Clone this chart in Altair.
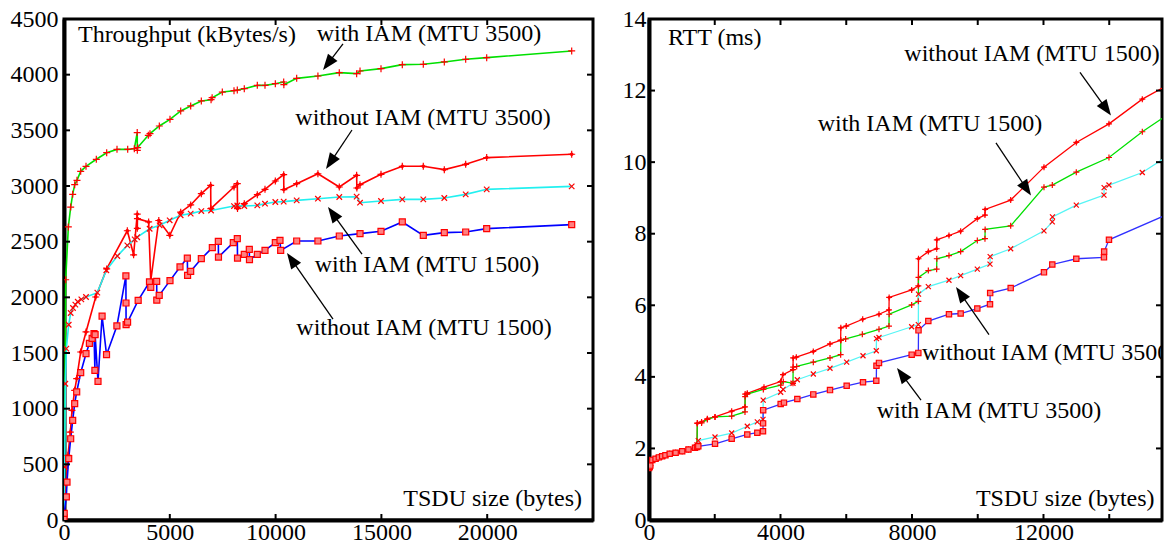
import math
import altair as alt
import pandas as pd

FONT = "Liberation Serif, Times New Roman, Times, serif"
FS = 24

# ---------------- left panel : throughput ----------------
tp_x_domain = [0, 25000]
tp_y_domain = [0, 4500]
tp_x_labels = [0, 5000, 10000, 15000, 20000]
tp_x_ticks = [5000, 10000, 15000, 20000]
tp_y_labels = [0, 500, 1000, 1500, 2000, 2500, 3000, 3500, 4000, 4500]
tp_y_ticks = [500, 1000, 1500, 2000, 2500, 3000, 3500, 4000]

# with IAM (MTU 3500)
tp_green_x = [0, 80, 205, 316, 410, 505, 614, 789, 1040, 1527, 2017, 2505, 3010, 3324, 3460, 3465,
              3480, 3985, 4064, 4505, 5009, 5515, 5987, 6490, 6950, 7000, 7482, 8034, 8190, 8520,
              9136, 9499, 9987, 10382, 10390, 10996, 12000, 13010, 13830, 13990, 14981, 15988,
              16980, 17973, 18983, 19976, 23993]
tp_green_y = [20, 2158, 2632, 2811, 2925, 3012, 3051, 3132, 3177, 3240, 3299, 3329, 3329, 3335, 3480,
              3320, 3345, 3455, 3470, 3539, 3599, 3674, 3719, 3764, 3775, 3793, 3844, 3856, 3862,
              3874, 3904, 3904, 3919, 3934, 3910, 3967, 3988, 4018, 4009, 4033, 4054, 4090, 4093,
              4114, 4138, 4153, 4213]
# without IAM (MTU 3500)
tp_red_x = [0, 100, 189, 299, 378, 505, 600, 789, 1040, 1498, 2017, 2993, 3290, 3460, 3465, 3470,
            4000, 4100, 4480, 5000, 5515, 5987, 6490, 6932, 6940, 8034, 8190, 8200, 8520, 9136,
            9499, 9987, 10382, 10390, 10996, 12000, 13010, 13830, 13840, 13990, 14981, 15988,
            16980, 17973, 18983, 19976, 23993]
tp_red_y = [20, 330, 581, 790, 985, 1165, 1270, 1509, 1689, 2003, 2255, 2598, 2382, 2748, 2620, 2707,
            2677, 2150, 2690, 2557, 2765, 2830, 2931, 3006, 2797, 2991, 3021, 2797, 2841, 2922,
            2970, 3045, 3102, 2967, 3021, 3110, 2991, 3096, 2982, 3012, 3105, 3177, 3177, 3147,
            3195, 3255, 3285]
# with IAM (MTU 1500)
tp_cyan_x = [0, 32, 63, 110, 222, 316, 425, 536, 650, 819, 1040, 1575, 2000, 2520, 2993, 3340, 3460,
             4048, 4520, 4994, 5513, 5987, 6490, 6950, 8034, 8190, 8520, 9136, 9499, 9987, 10382,
             10996, 12000, 13010, 13830, 13990, 14981, 15988, 16980, 17973, 18983, 19976, 23993]
tp_cyan_y = [20, 476, 1224, 1539, 1754, 1859, 1904, 1934, 1960, 1982, 2003, 2042, 2243, 2371, 2467,
             2521, 2540, 2616, 2647, 2692, 2737, 2752, 2775, 2780, 2820, 2825, 2820, 2826, 2841,
             2856, 2860, 2871, 2886, 2901, 2904, 2850, 2865, 2880, 2880, 2892, 2925, 2970, 2997]
# without IAM (MTU 1500)
tp_blue_x = [0, 10, 110, 142, 222, 316, 410, 505, 600, 789, 1040, 1200, 1330, 1418, 1460, 1470, 1607,
             1800, 2010, 2500, 2925, 2930, 2935, 3005, 3505, 4040, 4100, 4380, 4385, 4500, 5009,
             5482, 5828, 5840, 5987, 6490, 7010, 7293, 7300, 8001, 8190, 8200, 8520, 8757, 8765,
             9136, 9499, 9987, 10208, 10240, 10996, 12000, 13010, 13990, 14981, 15988, 16980,
             17973, 18983, 19976, 23993]
tp_blue_y = [20, 60, 207, 341, 551, 730, 895, 1045, 1150, 1323, 1494, 1587, 1632, 1674, 1344, 1665,
             1246, 1832, 1485, 1743, 2192, 1949, 1754, 1778, 1973, 2138, 2090, 2144, 1975, 2018,
             2150, 2273, 2353, 2198, 2234, 2347, 2446, 2503, 2362, 2491, 2527, 2353, 2386, 2431,
             2338, 2386, 2422, 2491, 2512, 2422, 2506, 2506, 2551, 2572, 2593, 2677, 2557, 2581,
             2587, 2617, 2653]

tp_text = ["Throughput (kBytes/s)", "with IAM (MTU 3500)", "without IAM (MTU 3500)",
           "with IAM (MTU 1500)", "without IAM (MTU 1500)", "TSDU size (bytes)"]
tp_text_x = [660, 17250, 16966, 17155, 17013, 24480]
tp_text_y = [4356, 4365, 3611, 2290, 1725, 189]
tp_text_align = ["left", "center", "center", "center", "center", "right"]

tp_arrow_x1 = [13185, 13610, 14083, 12713]
tp_arrow_y1 = [4276, 3503, 2389, 1805]
tp_arrow_x2 = [12240, 12382, 12476, 10539]
tp_arrow_y2 = [4042, 3153, 2811, 2398]

# ---------------- right panel : RTT ----------------
rtt_x_domain = [0, 15605]
rtt_y_domain = [0, 14]
rtt_x_labels = [0, 4000, 8000, 12000]
rtt_x_ticks = [2000, 4000, 6000, 8000, 10000, 12000, 14000]
rtt_y_labels = [0, 2, 4, 6, 8, 10, 12, 14]
rtt_y_ticks = [2, 4, 6, 8, 10, 12]

rtt_start_x = [0, 20, 40, 100, 200, 300, 400, 500, 630, 810, 1010, 1200, 1400]
rtt_start_y = [1.45, 1.48, 1.52, 1.68, 1.71, 1.75, 1.78, 1.81, 1.85, 1.88, 1.92, 1.97, 2.02]

# without IAM (MTU 1500)
rtt_red_x = [1460, 1470, 1600, 1775, 2008, 2515, 2920, 2925, 2990, 3498, 4005, 4076, 4380, 4385, 4481,
             4998, 5506, 5830, 5835, 6000, 6500, 6996, 7300, 7305, 7990, 8193, 8198, 8497, 8750,
             8755, 9125, 9480, 9987, 10220, 10225, 11002, 12015, 12998, 13992, 15006, 16000]
rtt_red_y = [2.08, 2.70, 2.74, 2.83, 2.88, 3.04, 3.16, 3.52, 3.54, 3.71, 3.87, 4.06, 4.20, 4.53, 4.55,
             4.71, 4.92, 5.02, 5.37, 5.42, 5.61, 5.75, 5.87, 6.22, 6.43, 6.54, 7.30, 7.50, 7.58,
             7.83, 7.95, 8.07, 8.42, 8.52, 8.68, 8.94, 9.86, 10.55, 11.07, 11.76, 12.27]
# with IAM (MTU 1500)
rtt_green_x = [1460, 1470, 1600, 1775, 2008, 2515, 2920, 2925, 2990, 3478, 4005, 4086, 4380, 4385,
               4492, 4998, 5506, 5830, 5835, 5982, 6489, 6996, 7300, 7305, 7990, 8193, 8198, 8497,
               8750, 8755, 9125, 9480, 9987, 10220, 10225, 11002, 12015, 12268, 12998, 13992,
               15006, 16000]
rtt_green_y = [2.08, 2.71, 2.71, 2.81, 2.88, 2.90, 3.02, 3.45, 3.52, 3.65, 3.77, 3.87, 3.82, 4.27,
               4.29, 4.41, 4.53, 4.62, 5.02, 5.06, 5.19, 5.33, 5.42, 5.75, 6.01, 6.11, 6.78, 6.97,
               7.01, 7.30, 7.39, 7.50, 7.81, 7.86, 8.12, 8.22, 9.30, 9.36, 9.72, 10.13, 10.85, 11.46]
# without IAM (MTU 3500)
rtt_cyan_x = [1460, 1500, 2008, 2515, 2990, 3295, 3468, 3473, 4005, 4080, 4380, 4512, 4998, 5506,
              6013, 6510, 6914, 6920, 6996, 7990, 8193, 8198, 8497, 9125, 9480, 9987, 10373, 10378,
              11002, 12015, 12268, 12273, 12998, 13840, 13845, 13992, 15006, 16000]
rtt_cyan_y = [2.10, 2.22, 2.32, 2.43, 2.62, 2.74, 2.81, 3.35, 3.57, 3.65, 3.82, 3.92, 4.08, 4.24,
              4.41, 4.59, 4.73, 5.07, 5.10, 5.40, 5.46, 6.31, 6.52, 6.70, 6.83, 7.01, 7.15, 7.36,
              7.58, 8.08, 8.33, 8.47, 8.80, 9.08, 9.29, 9.36, 9.71, 10.30]
# with IAM (MTU 3500)
rtt_blue_x = [1460, 1500, 2008, 2515, 2990, 3295, 3468, 3470, 3473, 4005, 4106, 4512, 4998, 5506,
              6013, 6510, 6914, 6920, 6996, 7990, 8193, 8198, 8497, 9125, 9480, 9987, 10373, 10378,
              11002, 12015, 12268, 12998, 13840, 13845, 13992, 16000]
rtt_blue_y = [2.04, 2.06, 2.13, 2.27, 2.39, 2.44, 2.48, 2.70, 3.07, 3.24, 3.28, 3.38, 3.51, 3.63,
              3.75, 3.85, 3.89, 4.31, 4.39, 4.62, 4.67, 5.30, 5.56, 5.75, 5.77, 5.91, 6.03, 6.34,
              6.48, 6.92, 7.14, 7.30, 7.34, 7.50, 7.83, 8.63]

rtt_text = ["RTT (ms)", "without IAM (MTU 1500)", "with IAM (MTU 1500)", "without IAM (MTU 3500)",
            "with IAM (MTU 3500)", "TSDU size (bytes)"]
rtt_text_x = [578, 11650, 8548, 8304, 10342, 15380]
rtt_text_y = [13.46, 13.01, 11.07, 4.68, 3.04, 0.59]
rtt_text_align = ["left", "center", "center", "left", "center", "right"]

rtt_arrow_x1 = [13110, 10555, 10342, 8274]
rtt_arrow_y1 = [12.51, 10.54, 5.18, 3.35]
rtt_arrow_x2 = [14053, 11620, 9338, 7544]
rtt_arrow_y2 = [11.30, 9.07, 6.51, 4.25]

# ---------------- styles ----------------
PLUS = "M-1,0L1,0M0,-1L0,1"
PLUS_D = "M-1,0L1,0M0,-1L0,1M-0.45,0L0,-0.45L0.45,0L0,0.45Z"
XMARK = "M-1,-1L1,1M-1,1L1,-1"
HEAD = "M0,-1L-0.75,1L0.75,1Z"
HEAD_LEN = 16


def sdf(xs, ys):
    assert len(xs) == len(ys)
    return pd.DataFrame({"x": xs, "y": ys, "i": list(range(len(xs)))})


def panel(series, xdom, ydom, W, H, xlabels, xticks, ylabels, yticks,
          texts, tx, ty, talign, ax1, ay1, ax2, ay2, ylab_pad, lw):
    xs = alt.Scale(domain=xdom, nice=False, zero=False)
    ys = alt.Scale(domain=ydom, nice=False, zero=False)
    axis_common = dict(title=None, ticks=False, tickSize=0, grid=False, domainWidth=4,
                       domainColor="black", labelFont=FONT, labelFontSize=FS,
                       labelColor="black", labelOverlap=False, format="d")
    xaxis = alt.Axis(values=xlabels, labelFlush=False, labelPadding=0, **axis_common)
    yaxis = alt.Axis(values=ylabels, labelPadding=ylab_pad, **axis_common)

    def X(f):
        return alt.X(f, scale=xs, axis=xaxis)

    def Y(f):
        return alt.Y(f, scale=ys, axis=yaxis)

    layers = []
    for (xsr, ysr, color, shape, fill, size) in series:
        layers.append(alt.Chart(sdf(xsr, ysr)).mark_line(color=color, strokeWidth=lw, clip=True)
                      .encode(x=X("x:Q"), y=Y("y:Q"), order="i:Q"))
    for (xsr, ysr, color, shape, fill, size) in series:
        layers.append(alt.Chart(sdf(xsr, ysr)).mark_point(shape=shape, stroke="red", fill=fill, size=size,
                                                          strokeWidth=1.2, opacity=1, fillOpacity=1,
                                                          clip=True)
                      .encode(x=X("x:Q"), y=Y("y:Q")))

    # inward ticks on all four sides
    ydf = pd.DataFrame({"x": yticks})
    xdf = pd.DataFrame({"x": xticks})
    tk = dict(color="black", strokeWidth=2)
    layers.append(alt.Chart(ydf).mark_rule(**tk).encode(
        y=Y("x:Q"), x=alt.value(0), x2=alt.value(6)))
    layers.append(alt.Chart(ydf).mark_rule(**tk).encode(
        y=Y("x:Q"), x=alt.value(W - 6), x2=alt.value(W)))
    layers.append(alt.Chart(xdf).mark_rule(**tk).encode(
        x=X("x:Q"), y=alt.value(H - 6), y2=alt.value(H)))
    layers.append(alt.Chart(xdf).mark_rule(**tk).encode(
        x=X("x:Q"), y=alt.value(0), y2=alt.value(6)))

    # annotation texts (clipped to the plot frame, as in the original)
    tdf = pd.DataFrame({"t": texts, "x": tx, "y": ty, "a": talign})
    for a in ["left", "center", "right"]:
        sub = tdf[tdf["a"] == a]
        if len(sub) == 0:
            continue
        layers.append(alt.Chart(sub).mark_text(align=a, baseline="middle", font=FONT,
                                               fontSize=FS, color="black", clip=True)
                      .encode(x=X("x:Q"), y=Y("y:Q"), text="t:N"))

    # arrows
    sx = W / (xdom[1] - xdom[0])
    sy = H / (ydom[1] - ydom[0])
    rows = []
    for x1, y1, x2, y2 in zip(ax1, ay1, ax2, ay2):
        dxp = (x2 - x1) * sx
        dyp = -(y2 - y1) * sy
        L = math.hypot(dxp, dyp)
        ux, uy = dxp / L, dyp / L
        ang = math.degrees(math.atan2(ux, -uy)) % 360
        cx = x2 - ux * (HEAD_LEN / 2) / sx
        cy = y2 + uy * (HEAD_LEN / 2) / sy
        rows.append({"x": x1, "y": y1, "xc": cx, "yc": cy, "a": ang})
    adf = pd.DataFrame(rows)
    layers.append(alt.Chart(adf).mark_rule(color="black", strokeWidth=1.3).encode(
        x=X("x:Q"), y=Y("y:Q"), x2="xc:Q", y2="yc:Q"))
    layers.append(alt.Chart(adf).mark_point(shape=HEAD, filled=True, color="black", size=HEAD_LEN ** 2,
                                            opacity=1).encode(
        x=X("xc:Q"), y=Y("yc:Q"), angle=alt.Angle("a:Q", scale=None)))

    return alt.layer(*layers).properties(width=W, height=H)


left_series = [
    (tp_green_x, tp_green_y, "#00e000", PLUS, "none", 49),
    (tp_red_x, tp_red_y, "#ff0000", PLUS_D, "red", 49),
    (tp_cyan_x, tp_cyan_y, "#22f0f0", XMARK, "none", 30),
    (tp_blue_x, tp_blue_y, "#0000ff", "square", "#ff8080", 36),
]
right_series = [
    (rtt_start_x + rtt_red_x, rtt_start_y + rtt_red_y, "#ff0000", PLUS_D, "red", 36),
    (rtt_start_x + rtt_green_x, rtt_start_y + rtt_green_y, "#00e000", PLUS, "none", 36),
    (rtt_start_x + rtt_cyan_x, rtt_start_y + rtt_cyan_y, "#55f5f5", XMARK, "none", 25),
    (rtt_start_x + rtt_blue_x, rtt_start_y + rtt_blue_y, "#3030ff", "square", "#ff8080", 28),
]

left = panel(left_series, tp_x_domain, tp_y_domain, 529, 501, tp_x_labels, tp_x_ticks,
             tp_y_labels, tp_y_ticks, tp_text, tp_text_x, tp_text_y, tp_text_align,
             tp_arrow_x1, tp_arrow_y1, tp_arrow_x2, tp_arrow_y2, 6, 1.6)
right = panel(right_series, rtt_x_domain, rtt_y_domain, 513, 501, rtt_x_labels, rtt_x_ticks,
              rtt_y_labels, rtt_y_ticks, rtt_text, rtt_text_x, rtt_text_y, rtt_text_align,
              rtt_arrow_x1, rtt_arrow_y1, rtt_arrow_x2, rtt_arrow_y2, 3, 1.3)

chart = (alt.hconcat(left, right, spacing=24)
         .properties(padding={"left": 0, "top": -3, "right": 0, "bottom": -4}, background="white")
         .configure_view(stroke="black", strokeWidth=3))

chart.save("out.html", embed_options={"renderer": "svg", "actions": False})
